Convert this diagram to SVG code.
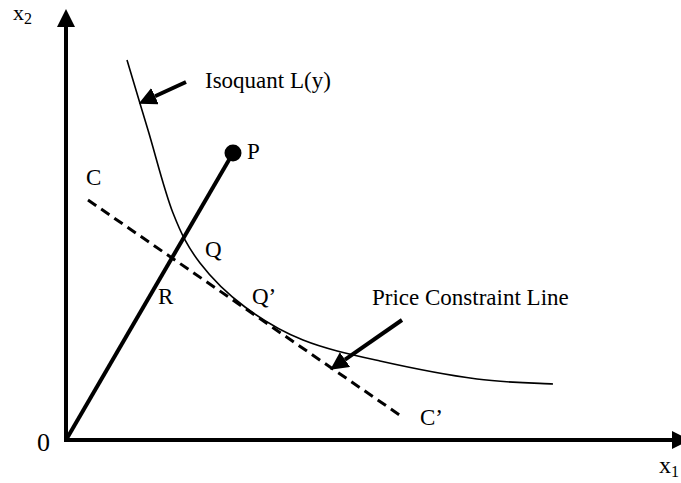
<svg xmlns="http://www.w3.org/2000/svg" width="681" height="483" viewBox="0 0 681 483">
  <style>
    .lbl { font-family: "Liberation Serif", "Times New Roman", serif; font-size: 23px; fill: #000; }
    .ax { font-family: "Liberation Serif", "Times New Roman", serif; font-size: 24px; fill: #000; }
    .sub { font-size: 16px; }
    .axis { stroke: #000; stroke-width: 4; fill: none; }
    .ptr { stroke: #000; stroke-width: 4; fill: none; }
  </style>
  <defs>
    <marker id="head" markerUnits="userSpaceOnUse" viewBox="0 0 18 18" refX="0" refY="9" markerWidth="18" markerHeight="18" orient="auto">
      <path d="M0,0 L18,9 L0,18 Z" fill="#000"/>
    </marker>
  </defs>
  <rect width="681" height="483" fill="#fff"/>

  <g id="axes">
    <line class="axis" x1="66" y1="440" x2="66" y2="27" marker-end="url(#head)"/>
    <line class="axis" x1="64" y1="440" x2="672" y2="440" marker-end="url(#head)"/>
    <text class="ax" x="13" y="20" style="font-size:22px">x<tspan class="sub" dy="4">2</tspan></text>
    <text class="ax" x="659" y="473">x<tspan class="sub" dy="4">1</tspan></text>
    <text class="ax" x="37" y="451" style="font-size:26px">0</text>
  </g>

  <g id="isoquant">
    <path d="M127,60 C130.5,71.7 140.3,104.5 148,130 C155.7,155.5 164.3,190.8 173,213 C181.7,235.2 188,247.3 200,263 C212,278.7 227.8,294.2 245,307 C262.2,319.8 280.5,331 303,340 C325.5,349 351,354.5 380,361 C409,367.5 448.2,375.2 477,379 C505.8,382.8 540.3,383.2 553,384" fill="none" stroke="#000" stroke-width="1.6"/>
  </g>

  <g id="price-line">
    <line x1="88" y1="200" x2="401" y2="416" stroke="#000" stroke-width="3" stroke-dasharray="10 6"/>
  </g>

  <g id="ray">
    <line x1="66" y1="440" x2="233" y2="153" stroke="#000" stroke-width="4"/>
  </g>

  <g id="point-P">
    <circle cx="233" cy="153" r="8.5" fill="#000"/>
    <text class="lbl" x="247" y="159">P</text>
  </g>

  <g id="connectors">
    <line class="ptr" x1="186" y1="82" x2="155" y2="96.2" marker-end="url(#head)"/>
    <line class="ptr" x1="402" y1="320" x2="345" y2="359.6" marker-end="url(#head)"/>
  </g>

  <g id="labels">
    <text class="lbl" x="205" y="88">Isoquant L(y)</text>
    <text class="lbl" x="86" y="185">C</text>
    <text class="lbl" x="205" y="257">Q</text>
    <text class="lbl" x="158" y="304">R</text>
    <text class="lbl" x="252" y="304">Q’</text>
    <text class="lbl" x="372" y="305">Price Constraint Line</text>
    <text class="lbl" x="420" y="425">C’</text>
  </g>
</svg>
